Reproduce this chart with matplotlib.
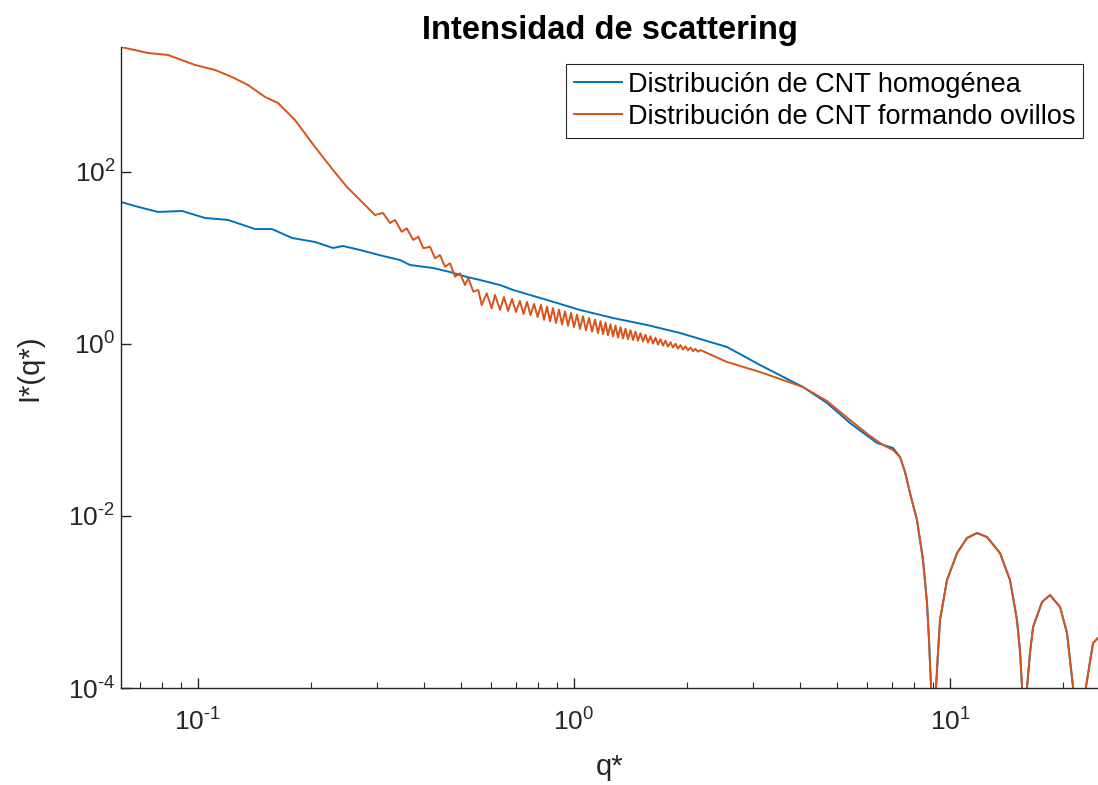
import matplotlib
matplotlib.use("Agg")
import matplotlib.pyplot as plt
from matplotlib.ticker import FixedLocator, NullLocator, FuncFormatter
import numpy as np

plt.rcParams['font.family'] = ['Liberation Sans', 'DejaVu Sans']
plt.rcParams['mathtext.fontset'] = 'custom'
plt.rcParams['mathtext.rm'] = 'Liberation Sans'
plt.rcParams['axes.unicode_minus'] = False

# --- data (q*, I*) ---
# homogeneous distribution, up to the knee
q_hom = [0.0624, 0.0680, 0.0782, 0.0907, 0.1044, 0.1202, 0.1418, 0.1573, 0.1778,
         0.2048, 0.2286, 0.2429, 0.2697, 0.3105, 0.3444, 0.3663, 0.4217, 0.4680,
         0.5192, 0.5623, 0.6356, 0.6884, 0.8476, 1.0375, 1.270, 1.564, 1.913,
         2.552, 3.124, 4.064, 4.709, 5.420, 6.396, 7.053]
I_hom = [44.8, 40.2, 34.3, 35.2, 29.2, 27.7, 21.7, 21.7, 17.1,
         15.35, 13.07, 13.79, 12.39, 10.55, 9.48, 8.29, 7.65, 6.87,
         6.01, 5.55, 4.85, 4.25, 3.25, 2.485, 2.005, 1.663, 1.343,
         0.923, 0.570, 0.316, 0.206, 0.1206, 0.0706, 0.0618]

# clustered ("ovillos") distribution, up to the knee
q_ovi = [0.0624, 0.0736, 0.0832, 0.0982, 0.1110, 0.1231, 0.1358, 0.1508, 0.1632,
         0.1811, 0.2048, 0.2286, 0.2490, 0.2747,
         # oscillating part
         0.2956, 0.3104, 0.3240, 0.3341, 0.3481, 0.3590, 0.3737, 0.3854, 0.3974,
         0.4140, 0.4269, 0.4402, 0.4538, 0.4680, 0.4825, 0.4975, 0.5130, 0.5235,
         0.5398, 0.5565, 0.5681, 0.5859, 0.6041, 0.6164, 0.6357,
         0.651, 0.668, 0.684, 0.701, 0.718, 0.734, 0.750, 0.766, 0.783, 0.800,
         # dense band
         0.8170, 0.8321, 0.8476, 0.8633, 0.8793, 0.8956, 0.9122, 0.9291, 0.9463, 0.9639,
         0.9817, 0.9999, 1.0185, 1.0374, 1.0566, 1.0762, 1.0962, 1.1165, 1.1372, 1.1583,
         1.1762, 1.1943, 1.2127, 1.2314, 1.2504, 1.2697, 1.2893, 1.3092, 1.3294, 1.3499,
         1.3707, 1.3918, 1.4133, 1.4351, 1.4572, 1.4797, 1.5025, 1.5257, 1.5492, 1.5731,
         1.5974, 1.6220, 1.6470, 1.6724, 1.6982, 1.7244, 1.7510, 1.7780, 1.8054, 1.8332,
         1.8615, 1.8902, 1.9194, 1.9490, 1.9790, 2.0095, 2.0405, 2.0720, 2.1039, 2.1364,
         2.1693,
         2.552, 3.124, 4.064, 4.709, 5.420, 6.126, 6.635, 7.053]
I_ovi = [2840, 2420, 2294, 1755, 1535, 1273, 1027, 745, 634,
         402, 195, 105.5, 66.9, 43.6,
         31.6, 33.4, 25.5, 27.7, 20.2, 22.1, 16.2, 17.7, 12.97,
         13.5, 9.92, 10.83, 7.92, 8.68, 6.06, 6.64, 4.85, 5.81,
         4.06, 4.25, 2.84, 3.89, 2.60, 3.71, 2.49,
         3.52, 2.42, 3.34, 2.36, 3.16, 2.23, 3.08, 2.17, 2.92, 2.06,
         2.842, 1.912, 2.723, 1.832, 2.608, 1.755, 2.506, 1.686, 2.395, 1.628,
         2.294, 1.569, 2.192, 1.495, 2.100, 1.440, 2.007, 1.391, 1.922, 1.340,
         1.842, 1.301, 1.769, 1.263, 1.700, 1.226, 1.633, 1.187, 1.569, 1.159,
         1.507, 1.137, 1.447, 1.113, 1.391, 1.093, 1.336, 1.067, 1.283, 1.038,
         1.233, 1.011, 1.184, 0.984, 1.137, 0.958, 1.093, 0.933, 1.049, 0.908,
         1.008, 0.884, 0.971, 0.863, 0.938, 0.845, 0.908, 0.827, 0.877, 0.812,
         0.850,
         0.618, 0.472, 0.316, 0.217, 0.1307, 0.0852, 0.0669, 0.0585]

# high-q part, same for both curves
q_tail = [7.362, 7.592, 7.826, 8.169, 8.476, 8.686, 8.793, 8.903, 9.04, 9.18,
          9.292, 9.406, 9.817, 10.44, 11.10, 11.80, 12.54, 13.58, 14.44, 15.07,
          15.36, 15.54, 15.78, 16.03, 16.32, 16.63, 17.57, 18.45, 19.62, 20.47,
          20.85, 21.24, 22.10, 22.99, 24.01, 24.75]
I_tail = [0.0485, 0.0325, 0.0185, 0.00899, 0.00308, 0.000974, 0.000361, 0.000103, 1e-6, 0.000103,
          0.000262, 0.000618, 0.0018, 0.00371, 0.00555, 0.00634, 0.0057, 0.00371, 0.0018, 0.000618,
          0.000262, 0.000103, 1e-6, 0.000103, 0.000255, 0.000512, 0.001, 0.001205, 0.000875, 0.000436,
          0.000212, 0.000103, 1e-6, 0.000103, 0.000334, 0.000381]

x_ticks = [0.1, 1, 10]
y_ticks = [1e-4, 1e-2, 1, 1e2]
x_minor = [0.07, 0.08, 0.09, 0.2, 0.3, 0.4, 0.5, 0.6, 0.7, 0.8, 0.9,
           2, 3, 4, 5, 6, 7, 8, 9, 20]

labels = ["Distribución de CNT homogénea", "Distribución de CNT formando ovillos"]
colors = ["#0072BD", "#D95319"]
axis_col = "#262626"


def pow_label(v, pos):
    # MATLAB style 10^n with a short hyphen for negative exponents
    e = str(int(round(np.log10(v)))).replace("-", "\u2010")
    return r"$\mathregular{10^{%s}}$" % e


fig = plt.figure(figsize=(10.98, 7.85), dpi=100)
ax = fig.add_axes([121 / 1098, 97 / 785, 977 / 1098, 641 / 785])

ax.plot(q_hom + q_tail, I_hom + I_tail, color=colors[0], lw=1.4, label=labels[0])
ax.plot(q_ovi + q_tail, I_ovi + I_tail, color=colors[1], lw=1.4, label=labels[1])

ax.set_xscale("log")
ax.set_yscale("log")
ax.set_xlim(q_ovi[0], q_tail[-1])
ax.set_ylim(1e-4, max(I_ovi))

ax.xaxis.set_major_locator(FixedLocator(x_ticks))
ax.xaxis.set_minor_locator(FixedLocator(x_minor))
ax.yaxis.set_major_locator(FixedLocator(y_ticks))
ax.yaxis.set_minor_locator(NullLocator())
ax.xaxis.set_major_formatter(FuncFormatter(pow_label))
ax.yaxis.set_major_formatter(FuncFormatter(pow_label))

for side in ["top", "right"]:
    ax.spines[side].set_visible(False)
for side in ["left", "bottom"]:
    ax.spines[side].set_color(axis_col)
    ax.spines[side].set_linewidth(1.0)

ax.tick_params(which="both", direction="in", colors=axis_col, labelsize=19)
ax.tick_params(which="major", length=7, width=1.0)
ax.tick_params(which="minor", length=4, width=0.8)
ax.tick_params(axis="x", which="major", pad=15)
ax.tick_params(axis="y", which="major", pad=4)

ax.set_xlabel("q*", fontsize=21, color=axis_col, labelpad=12)
ax.set_ylabel("I*(q*)", fontsize=21, color=axis_col, labelpad=18)
ax.set_title("Intensidad de scattering", fontsize=23.5, fontweight="bold", pad=6)

leg = ax.legend(loc="upper right", bbox_to_anchor=(0.985, 0.974), fontsize=19.5,
                frameon=True, fancybox=False, framealpha=1, handlelength=1.75,
                handletextpad=0.22, borderpad=0.3, labelspacing=0.22, borderaxespad=0)
leg.get_frame().set_edgecolor(axis_col)
leg.get_frame().set_linewidth(0.8)

fig.savefig("out.png", dpi=100)
